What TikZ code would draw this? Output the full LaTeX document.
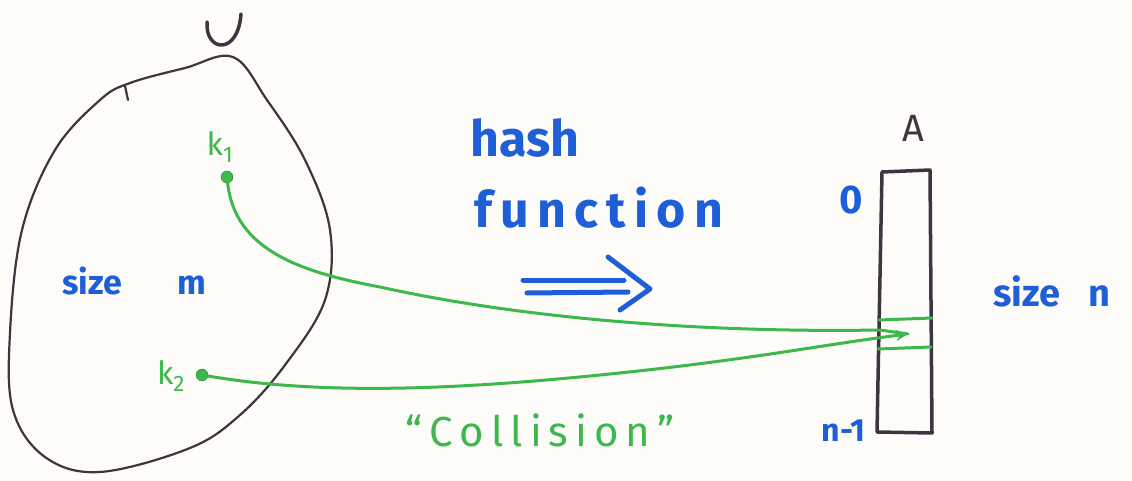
\documentclass[tikz,border=0pt]{standalone}
\usepackage{fontspec}
\setmainfont{Fira Sans}
\usetikzlibrary{arrows.meta}
\definecolor{ink}{HTML}{3B3640}
\definecolor{pblue}{HTML}{1E5FD8}
\definecolor{pgreen}{HTML}{3DB84C}
\definecolor{paper}{HTML}{FDFCF8}
\tikzset{
  outline/.style={draw=ink, line width=2.2pt, line join=round, line cap=round},
  thick outline/.style={draw=ink, line width=3.5pt, line join=round, line cap=round},
  bluetext/.style={text=pblue, font=\fontsize{#1}{#1}\selectfont\bfseries, inner sep=0pt},
  greentext/.style={text=pgreen, font=\fontsize{#1}{#1}\selectfont, inner sep=0pt},
  inktext/.style={text=ink, font=\fontsize{#1}{#1}\selectfont, inner sep=0pt},
  keydot/.style={circle, fill=pgreen, draw=pgreen!70!black, inner sep=0pt, minimum size=12pt},
  hashline/.style={draw=pgreen, line width=3pt, line cap=round},
  mapsto/.style={draw=pblue, line width=5pt, line cap=round, line join=round}
}
\begin{document}
\begin{tikzpicture}[x=1pt,y=-1pt]
\useasboundingbox[fill=paper] (0,0) rectangle (1132,481);
% universe blob
\draw[outline] plot[smooth cycle, tension=0.6] coordinates {
 (233,57) (267,100) (305,160) (330,230) (325,300) (285,365) (240,415)
 (190,448) (100,472) (45,457) (13,410) (10,333) (22,230) (55,150)
 (100,100) (130,83) (185,68)};
\draw[outline] (125,86) -- (128,100);
% U label
\draw[thick outline] (207,22) .. controls (205,52) and (238,56) .. (241,14);
% keys
\node[keydot] (k1) at (227,177) {};
\node[keydot] (k2) at (202,375) {};
\node[greentext=32] (k1lab) at (220,147) {k\textsubscript{1}};
\node[greentext=32] (k2lab) at (171,376) {k\textsubscript{2}};
% size m
\node[bluetext=34, anchor=base west] (sizem) at (62,294) {size\hspace{55pt}m};
% hash function text
\node[bluetext=50, anchor=base west] (hash) at (470,157) {hash};
\node[bluetext=50, anchor=base west] (func) at (474,228) {f\,u\,n\,c\,t\,i\,o\,n};
% double arrow
\draw[mapsto] (523,280) -- (624,280);
\draw[mapsto] (527,293) -- (628,292);
\draw[mapsto] (608,257) -- (650,289) -- (620,310);
% array A
\node[inktext=38] (Alab) at (913,128) {A};
\node[coordinate] (Atl) at (882,172) {};
\node[coordinate] (Atr) at (930,170) {};
\node[coordinate] (Abr) at (932,433) {};
\node[coordinate] (Abl) at (877,432) {};
\draw[thick outline] (Atl) -- (Atr) -- (Abr) -- (Abl) -- cycle;
\node[bluetext=40] (zero) at (851,200) {0};
\node[bluetext=32, anchor=base east] (nm1) at (866,441) {n-1};
\node[bluetext=38, anchor=base west] (sizen) at (993,306) {size\hspace{28pt}n};
% slot
\node[coordinate] (s1l) at (879,320) {};
\node[coordinate] (s1r) at (932,318) {};
\node[coordinate] (s2l) at (878,349) {};
\node[coordinate] (s2r) at (931,347) {};
\draw[hashline] (s1l) -- (s1r);
\draw[hashline] (s2l) -- (s2r);
\node[coordinate] (slot) at (908,334) {};
% hash mappings
\draw[hashline] (k1) .. controls (235,250) and (300,272) .. (380,287)
   .. controls (520,318) and (700,333) .. (880,330) -- (slot);
\draw[hashline, -{Stealth[length=12pt,width=11pt]}] (k2) .. controls (320,395) and (450,390) .. (600,375)
   .. controls (750,360) and (820,345) .. (slot);
% collision label
\node[greentext=42, anchor=base] (coll) at (540,446) {“\,C\,o\,l\,l\,i\,s\,i\,o\,n\,”};
\end{tikzpicture}
\end{document}
